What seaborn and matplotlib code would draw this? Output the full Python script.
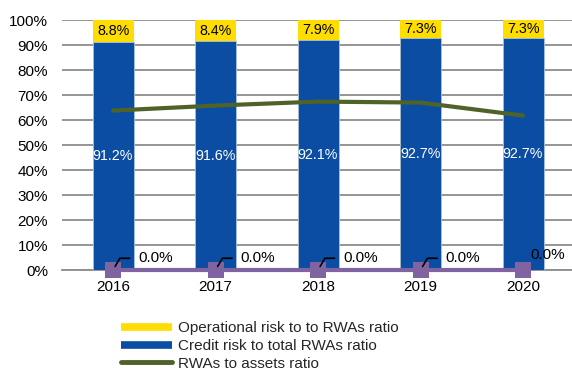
import matplotlib
matplotlib.use("Agg")
import matplotlib.pyplot as plt
from matplotlib.lines import Line2D
import numpy as np
import pandas as pd
import seaborn as sns

years = ["2016", "2017", "2018", "2019", "2020"]
operational_risk = [8.8, 8.4, 7.9, 7.3, 7.3]
credit_risk = [91.2, 91.6, 92.1, 92.7, 92.7]
rwa_to_assets = [63.8, 65.8, 67.4, 67.0, 61.8]
other_risk = [0.0, 0.0, 0.0, 0.0, 0.0]

YELLOW = "#FFDD00"
BLUE = "#0A4DA2"
GREEN = "#4F6228"
PURPLE = "#8064A2"
GRID = "#8C8C8C"

sns.set_theme(style="white")
plt.rcParams["font.family"] = ["Liberation Sans", "DejaVu Sans"]
FS = 11
FS_BAR = 10.3

df = pd.DataFrame({
    "year": years,
    "op": operational_risk,
    "credit": credit_risk,
    "total": np.array(credit_risk) + np.array(operational_risk),
})

fig = plt.figure(figsize=(5.72, 3.72), dpi=100)
ax = fig.add_axes([0.108, 0.274, 0.896, 0.672])

# stacked bars: yellow total behind, blue credit share in front
sns.barplot(data=df, x="year", y="total", color=YELLOW, width=0.4,
            saturation=1, ax=ax, zorder=2, edgecolor="none")
sns.barplot(data=df, x="year", y="credit", color=BLUE, width=0.4,
            saturation=1, ax=ax, zorder=3, edgecolor="#A9C1E3", linewidth=0.6)

pos = np.arange(len(years))
sns.lineplot(x=pos, y=rwa_to_assets, color=GREEN, linewidth=3.0, ax=ax,
             zorder=5, solid_capstyle="round")
sns.lineplot(x=pos, y=other_risk, color=PURPLE, linewidth=3.0, ax=ax,
             zorder=6, marker="s", markersize=11, markeredgewidth=0,
             clip_on=False)

# value labels inside the bar segments
for i in pos:
    ax.text(i, credit_risk[i] + operational_risk[i] / 2, f"{operational_risk[i]:.1f}%",
            ha="center", va="center", fontsize=FS_BAR, color="black", zorder=7)
    ax.text(i, credit_risk[i] / 2, f"{credit_risk[i]:.1f}%",
            ha="center", va="center", fontsize=FS_BAR, color="white", zorder=7)

# zero-value labels with leader lines
for i in pos:
    if i < len(pos) - 1:
        ax.annotate(f"{other_risk[i]:.1f}%", xy=(i, other_risk[i]), xycoords="data",
                    xytext=(18, 8.5), textcoords="offset points",
                    ha="left", va="center", fontsize=FS, color="black", zorder=8,
                    bbox=dict(boxstyle="square,pad=0.1", fc="white", ec="none"),
                    arrowprops=dict(arrowstyle="-", color="black", lw=1.2,
                                    shrinkA=5, shrinkB=3,
                                    connectionstyle="angle,angleA=0,angleB=60",
                                    relpos=(0, 0.5)))
    else:
        ax.annotate(f"{other_risk[i]:.1f}%", xy=(i, other_risk[i]), xycoords="data",
                    xytext=(5.5, 10.5), textcoords="offset points",
                    ha="left", va="center", fontsize=FS, color="black", zorder=8)

ax.set_xlim(-0.5, len(years) - 0.5)
ax.set_ylim(0, 100)
ax.set_yticks(np.arange(0, 101, 10))
ax.set_yticklabels([f"{v}%" for v in range(0, 101, 10)], fontsize=FS)
ax.set_xticks(pos)
ax.set_xticklabels(years, fontsize=FS)
ax.set_xticks(np.arange(-0.5, len(years), 1.0), minor=True)
ax.tick_params(axis="x", which="major", length=0, pad=7, colors="black")
ax.tick_params(axis="x", which="minor", length=4, width=1.2, color=GRID, direction="out")
ax.tick_params(axis="y", length=0, pad=10, colors="black")
ax.set_xlabel("")
ax.set_ylabel("")

ax.yaxis.grid(True, color=GRID, linewidth=1.3, zorder=0)
ax.set_axisbelow(True)
for side in ["top", "right", "left"]:
    ax.spines[side].set_visible(False)
ax.spines["bottom"].set_color(GRID)
ax.spines["bottom"].set_linewidth(1.3)

handles = [
    Line2D([0], [0], color=YELLOW, lw=5.5, solid_capstyle="butt"),
    Line2D([0], [0], color=BLUE, lw=5.5, solid_capstyle="butt"),
    Line2D([0], [0], color=GREEN, lw=3.5, solid_capstyle="round"),
]
labels = [
    "Operational risk to to RWAs ratio",
    "Credit risk to total RWAs ratio",
    "RWAs to assets ratio",
]
fig.legend(handles, labels, loc="upper left", bbox_to_anchor=(0.211, 0.136),
           bbox_transform=fig.transFigure, frameon=False, fontsize=FS,
           handlelength=3.35, handletextpad=0.4, labelspacing=0.24,
           borderaxespad=0, borderpad=0)

fig.savefig("out.png", dpi=100)
